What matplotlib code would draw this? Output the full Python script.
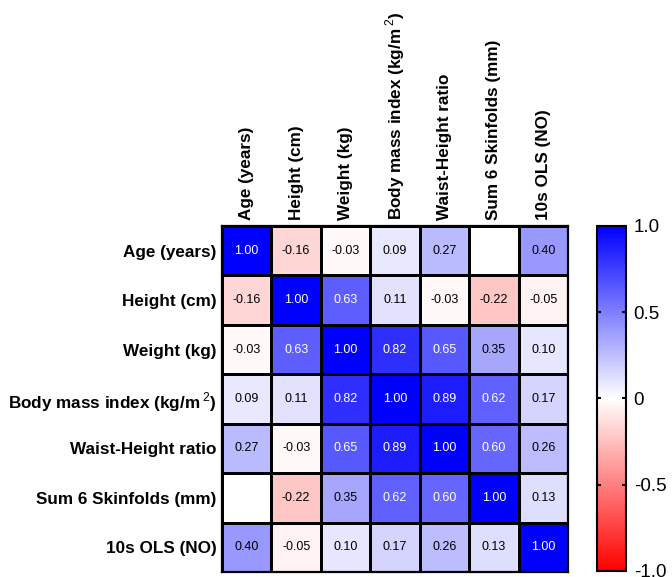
import numpy as np
import matplotlib
matplotlib.use("Agg")
import matplotlib.pyplot as plt

plt.rcParams['font.family'] = ['Liberation Sans', 'DejaVu Sans']
plt.rcParams['mathtext.fontset'] = 'custom'
plt.rcParams['mathtext.rm'] = 'Liberation Sans'
plt.rcParams['mathtext.bf'] = 'Liberation Sans:bold'

etiquetas = ["Age (years)", "Height (cm)", "Weight (kg)",
             "Body mass index (kg/m$\\,^{2}$)", "Waist-Height ratio",
             "Sum 6 Skinfolds (mm)", "10s OLS (NO)"]

# matriz de correlaciones (nan = celda vacia)
correlaciones = np.array([
    [1.00, -0.16, -0.03, 0.09, 0.27, np.nan, 0.40],
    [-0.16, 1.00, 0.63, 0.11, -0.03, -0.22, -0.05],
    [-0.03, 0.63, 1.00, 0.82, 0.65, 0.35, 0.10],
    [0.09, 0.11, 0.82, 1.00, 0.89, 0.62, 0.17],
    [0.27, -0.03, 0.65, 0.89, 1.00, 0.60, 0.26],
    [np.nan, -0.22, 0.35, 0.62, 0.60, 1.00, 0.13],
    [0.40, -0.05, 0.10, 0.17, 0.26, 0.13, 1.00],
])

ticks_barra = [1.0, 0.5, 0, -0.5, -1.0]
ticks_texto = ["1.0", "0.5", "0", "-0.5", "-1.0"]

fig = plt.figure(figsize=(6.72, 5.77), dpi=100)
ax = fig.add_axes([0.3304, 0.0087, 0.5149, 0.5997])
cax = fig.add_axes([0.8884, 0.0104, 0.0432, 0.598])

n = len(etiquetas)
datos = np.ma.masked_invalid(correlaciones)
cmap = plt.get_cmap("bwr_r").copy()
cmap.set_bad("white")
malla = ax.pcolormesh(np.arange(n + 1), np.arange(n + 1), datos, cmap=cmap,
                      vmin=-1, vmax=1, edgecolors="black", linewidth=0.8)
ax.set_xlim(0, n)
ax.set_ylim(n, 0)

for i in range(n):
    for j in range(n):
        v = correlaciones[i, j]
        if np.isnan(v):
            continue
        color = "white" if v >= 0.5 else "black"
        ax.text(j + 0.5, i + 0.5, f"{v:.2f}", ha="center", va="center",
                fontsize=9, color=color)

ax.set_xticks(np.arange(n) + 0.5)
ax.set_yticks(np.arange(n) + 0.5)
ax.set_xticklabels(etiquetas, rotation=90, fontsize=12.3, fontweight="bold")
ax.set_yticklabels(etiquetas, fontsize=12.3, fontweight="bold")
ax.xaxis.tick_top()
ax.tick_params(length=0, pad=4)
for s in ax.spines.values():
    s.set_linewidth(1.6)

cb = fig.colorbar(malla, cax=cax, ticks=ticks_barra)
cb.set_ticklabels(ticks_texto)
cb.outline.set_linewidth(1.5)
cax.tick_params(direction="in", length=3, width=1.5, labelsize=13.5, pad=5.5)
cax.yaxis.set_ticks_position("both")
cax.tick_params(labelleft=False, labelright=True)

fig.savefig("out.png", dpi=100)
